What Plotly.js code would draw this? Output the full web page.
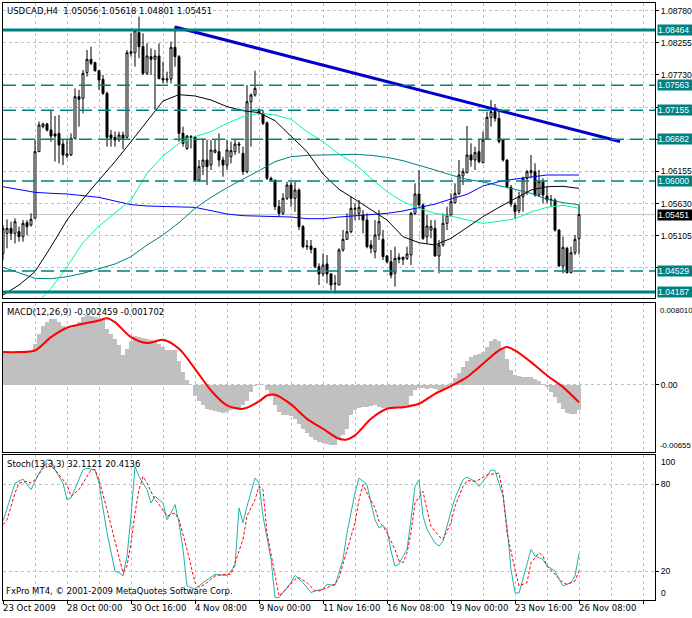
<!DOCTYPE html>
<html><head><meta charset="utf-8">
<script src="https://cdn.plot.ly/plotly-3.0.1.min.js"></script>
<style>html,body{margin:0;padding:0;background:#fff}#chart{width:692px;height:618px}</style>
</head><body><div id="chart"></div>
<script>
// ---------- price data (USDCAD H4, bar index 0..144) ----------
const open = [
1.04818,1.05145,1.05226,1.05145,1.05172,1.05090,1.05319,1.05281,1.05390,1.06478,
1.06886,1.06930,1.06832,1.06766,1.06777,1.06603,1.06407,1.06424,1.06696,1.07376,
1.07349,1.07768,1.07985,1.07931,1.07800,1.07659,1.07430,1.06750,1.06712,1.06668,
1.06750,1.06712,1.08083,1.08094,1.08421,1.08192,1.07757,1.08029,1.07985,1.08040,
1.07675,1.07648,1.07664,1.08181,1.08029,1.06777,1.06532,1.06723,1.06723,1.06015,
1.06233,1.06342,1.06260,1.06467,1.06478,1.06342,1.06260,1.06396,1.06478,1.06603,
1.06451,1.06151,1.07294,1.07403,1.07158,1.07104,1.06951,1.06043,1.06015,1.05580,
1.05471,1.05716,1.05934,1.05716,1.05852,1.05254,1.04927,1.04938,1.04900,1.04600,
1.04481,1.04644,1.04481,1.04317,1.04301,1.04873,1.05047,1.05172,1.05536,1.05471,
1.05444,1.05362,1.04954,1.04845,1.05117,1.05047,1.04775,1.04682,1.04492,1.04720,
1.04753,1.04736,1.04791,1.05471,1.05787,1.05607,1.05090,1.05199,1.05226,1.04775,
1.04954,1.05308,1.05444,1.05645,1.05798,1.06081,1.06135,1.06424,1.06342,1.06478,
1.06298,1.06679,1.07038,1.07131,1.07022,1.06668,1.06342,1.05896,1.05607,1.05515,
1.05743,1.06043,1.06135,1.06151,1.05770,1.05988,1.05754,1.05700,1.05689,1.05199,
1.04611,1.04900,1.04502,1.04829,1.05056];
const high = [
1.05281,1.05373,1.05335,1.05390,1.05254,1.05362,1.05362,1.05471,1.06668,1.06968,
1.06951,1.06951,1.07158,1.07060,1.07077,1.06668,1.06668,1.06777,1.07512,1.07485,
1.07811,1.08138,1.08192,1.07947,1.07811,1.07730,1.07457,1.06832,1.06805,1.06805,
1.06805,1.08138,1.08410,1.08464,1.08682,1.08410,1.08247,1.08165,1.08138,1.08247,
1.07947,1.07784,1.08274,1.08530,1.08056,1.06886,1.06750,1.06750,1.06734,1.06342,
1.06696,1.06668,1.06668,1.06668,1.06777,1.06396,1.06668,1.06641,1.06668,1.06641,
1.06559,1.07566,1.07430,1.07800,1.07185,1.07158,1.06968,1.06070,1.06015,1.05689,
1.05798,1.05988,1.05988,1.05988,1.05879,1.05281,1.05036,1.05036,1.04900,1.04655,
1.04818,1.04791,1.04492,1.04464,1.04900,1.05199,1.05471,1.05743,1.05634,1.05689,
1.05525,1.05471,1.05036,1.05362,1.05525,1.05199,1.04791,1.04873,1.04927,1.04818,
1.04764,1.04927,1.05498,1.05961,1.06179,1.05634,1.05444,1.05362,1.05362,1.05036,
1.05471,1.05580,1.05798,1.05961,1.06342,1.06206,1.06897,1.06614,1.06559,1.06668,
1.06805,1.07131,1.07321,1.07256,1.07158,1.06679,1.06353,1.05934,1.05645,1.05825,
1.06070,1.06179,1.06424,1.06288,1.06179,1.06043,1.05906,1.05770,1.05716,1.05210,
1.05090,1.04927,1.04927,1.05117,1.05618];
const low = [
1.04709,1.04900,1.05036,1.04981,1.05009,1.05009,1.05117,1.05254,1.05390,1.06478,
1.06859,1.06805,1.06641,1.06315,1.06288,1.06260,1.06369,1.06407,1.06679,1.06886,
1.07104,1.07702,1.07893,1.07784,1.07485,1.07403,1.06559,1.06559,1.06559,1.06641,
1.06516,1.06696,1.08029,1.07866,1.08002,1.07730,1.07730,1.07730,1.07158,1.07659,
1.07593,1.07593,1.07593,1.07866,1.06641,1.06559,1.06505,1.06532,1.05988,1.05988,
1.06097,1.05934,1.06179,1.06451,1.06233,1.06070,1.06179,1.06288,1.06424,1.06451,
1.06097,1.06124,1.06559,1.07376,1.07077,1.06913,1.06015,1.05988,1.05525,1.05417,
1.05444,1.05689,1.05580,1.05498,1.05199,1.04900,1.04873,1.04818,1.04573,1.04301,
1.04437,1.04328,1.04219,1.04165,1.04301,1.04845,1.05036,1.05145,1.05362,1.05362,
1.05145,1.04900,1.04818,1.04736,1.05036,1.04709,1.04655,1.04410,1.04274,1.04655,
1.04628,1.04709,1.04628,1.05444,1.05580,1.05036,1.04981,1.05063,1.04764,1.04492,
1.04927,1.05199,1.05417,1.05634,1.05770,1.05934,1.06124,1.06233,1.06179,1.06288,
1.06288,1.06668,1.06886,1.06968,1.06614,1.06315,1.05879,1.05580,1.05390,1.05471,
1.05498,1.05770,1.06043,1.05743,1.05743,1.05634,1.05634,1.05580,1.05172,1.04600,
1.04492,1.04492,1.04492,1.04791,1.04801];
const close = [
1.05226,1.05226,1.05145,1.05335,1.05090,1.05308,1.05254,1.05373,1.06478,1.06913,
1.06930,1.06832,1.06734,1.06734,1.06587,1.06424,1.06440,1.06696,1.07376,1.07332,
1.07757,1.07985,1.07920,1.07800,1.07648,1.07430,1.06712,1.06696,1.06668,1.06750,
1.06696,1.08094,1.08110,1.08453,1.08192,1.07757,1.08040,1.07985,1.08040,1.07670,
1.07648,1.07664,1.08181,1.08029,1.06777,1.06614,1.06734,1.06712,1.06015,1.06233,
1.06342,1.06233,1.06505,1.06505,1.06342,1.06260,1.06505,1.06494,1.06603,1.06587,
1.06151,1.07294,1.07403,1.07512,1.07104,1.06940,1.06043,1.06015,1.05580,1.05471,
1.05716,1.05934,1.05716,1.05852,1.05254,1.04927,1.04938,1.04883,1.04600,1.04481,
1.04628,1.04481,1.04301,1.04328,1.04873,1.05047,1.05172,1.05553,1.05553,1.05569,
1.05362,1.04927,1.04900,1.05117,1.05335,1.04764,1.04682,1.04464,1.04736,1.04753,
1.04720,1.04807,1.05471,1.05787,1.05607,1.05063,1.05264,1.05254,1.04775,1.04954,
1.05308,1.05444,1.05662,1.05798,1.06097,1.06151,1.06424,1.06342,1.06462,1.06315,
1.06668,1.07038,1.07131,1.07022,1.06641,1.06342,1.05906,1.05624,1.05498,1.05743,
1.06043,1.06151,1.06168,1.05770,1.05988,1.05770,1.05689,1.05689,1.05199,1.04611,
1.04916,1.04502,1.04829,1.05047,1.05451];

// ---------- moving averages (every 4th bar) ----------
const maIdx = [0,4,8,12,16,20,24,28,32,36,40,44,48,52,56,60,64,68,72,76,80,84,88,92,96,100,104,108,112,116,120,124,128,132,136,140,144];
const maBlack = [1.04138,1.04301,1.04519,1.04927,1.05362,1.05705,1.06015,1.06315,1.06641,1.06968,1.07305,1.07409,1.07387,1.07321,1.07213,1.07147,1.07115,1.06984,1.06728,1.06478,1.06113,1.05863,1.05700,1.05537,1.05362,1.05090,1.04992,1.04954,1.05063,1.05239,1.05417,1.05569,1.05716,1.05852,1.05906,1.05912,1.05879];
const maTeal  = [1.04590,1.04502,1.04410,1.04404,1.04437,1.04492,1.04568,1.04644,1.04764,1.04954,1.05117,1.05319,1.05553,1.05732,1.05890,1.06026,1.06168,1.06315,1.06396,1.06418,1.06424,1.06429,1.06435,1.06418,1.06385,1.06331,1.06260,1.06179,1.06097,1.06026,1.05983,1.05928,1.05863,1.05798,1.05700,1.05645,1.05613];
const maBlue  = [1.05906,1.05863,1.05814,1.05798,1.05787,1.05760,1.05732,1.05672,1.05613,1.05591,1.05585,1.05580,1.05569,1.05515,1.05460,1.05433,1.05422,1.05417,1.05411,1.05384,1.05384,1.05411,1.05428,1.05455,1.05471,1.05509,1.05564,1.05623,1.05705,1.05781,1.05917,1.05988,1.06031,1.06070,1.06097,1.06097,1.06097];
const greenIdx = [8,12,16,20,24,28,32,36,40,44,48,52,56,60,64,68,72,76,80,84,88,92,96,100,104,108,112,116,120,124,128,132,136,140,144];
const maGreen = [1.03975,1.04247,1.04600,1.04992,1.05264,1.05471,1.05689,1.06124,1.06407,1.06614,1.06723,1.06805,1.06940,1.07049,1.07104,1.07077,1.07006,1.06805,1.06641,1.06440,1.06277,1.06043,1.05825,1.05662,1.05553,1.05471,1.05428,1.05362,1.05308,1.05341,1.05384,1.05493,1.05569,1.05602,1.05553];

// ---------- objects ----------
const trendX = [43, 154.25];
const trendY = [1.08513, 1.06644];
const levelsSolid = [1.08464, 1.04187];
const levelsDash = [1.07563, 1.07155, 1.06682, 1.06000, 1.04529];
const bidPrice = 1.05451;
const priceTicks = [1.08780,1.08255,1.07730,1.07205,1.06680,1.06155,1.05630,1.05105,1.04580];
const priceTickText = ['1.08780','1.08255','1.07730','','','1.06155','1.05630','1.05105',''];

// ---------- MACD(12,26,9) ----------
const macdHist = [
0.00321,0.00327,0.00327,0.00321,0.00314,0.00314,0.00314,0.00321,0.00402,0.00500,
0.00581,0.00620,0.00640,0.00640,0.00614,0.00581,0.00549,0.00555,0.00581,0.00614,
0.00663,0.00679,0.00673,0.00663,0.00653,0.00630,0.00549,0.00500,0.00451,0.00386,
0.00288,0.00353,0.00425,0.00477,0.00467,0.00458,0.00451,0.00441,0.00425,0.00402,
0.00370,0.00337,0.00337,0.00337,0.00239,0.00125,0.00044,0.00002,-0.00103,-0.00161,
-0.00200,-0.00233,-0.00249,-0.00259,-0.00265,-0.00272,-0.00265,-0.00249,-0.00233,-0.00226,
-0.00200,-0.00161,-0.00070,-0.00011,0.00011,-0.00005,-0.00054,-0.00103,-0.00200,-0.00265,
-0.00292,-0.00298,-0.00305,-0.00337,-0.00379,-0.00428,-0.00467,-0.00510,-0.00542,-0.00559,
-0.00565,-0.00575,-0.00585,-0.00591,-0.00526,-0.00493,-0.00428,-0.00298,-0.00249,-0.00226,
-0.00220,-0.00217,-0.00207,-0.00200,-0.00217,-0.00226,-0.00233,-0.00233,-0.00233,-0.00226,
-0.00220,-0.00200,-0.00103,-0.00054,-0.00031,-0.00031,-0.00037,-0.00031,-0.00037,-0.00054,
-0.00044,-0.00021,0.00021,0.00067,0.00119,0.00174,0.00230,0.00272,0.00295,0.00301,
0.00321,0.00370,0.00425,0.00451,0.00425,0.00347,0.00249,0.00151,0.00099,0.00086,
0.00077,0.00077,0.00073,0.00054,0.00034,0.00011,-0.00021,-0.00070,-0.00119,-0.00174,
-0.00233,-0.00272,-0.00282,-0.00282,-0.00246];
const macdSigIdx = [0,4,8,12,16,20,24,26,28,32,36,40,44,48,52,56,60,64,66,68,72,76,80,84,86,88,92,96,100,104,108,112,116,120,124,126,128,132,136,140,144];
const macdSig = [0.00321,0.00321,0.00337,0.00467,0.00559,0.00598,0.00630,0.00653,0.00614,0.00467,0.00409,0.00441,0.00353,0.00158,-0.00054,-0.00200,-0.00233,-0.00161,-0.00103,-0.00096,-0.00190,-0.00331,-0.00428,-0.00526,-0.00532,-0.00493,-0.00331,-0.00233,-0.00217,-0.00184,-0.00086,-0.00011,0.00077,0.00207,0.00337,0.00370,0.00337,0.00223,0.00093,-0.00021,-0.00170];
const macdMax = 0.00801, macdMin = -0.00655;

// ---------- Stochastic(13,3,3) ----------
const stMainX = [0,3,5,7,9,11,12,13,15,16,17,19,20,21,23,24,25,26,28,29,30,31,32,33,34,36,37,38,40,41,42,43,44,45,46,48,50,53,55,56,58,59,60,61,63,64,65,67,68,69,72,73,75,77,78,80,81,83,84,85,86,88,89,91,92,93,94,95,96,97,98,99,100,101,102,103,104,105,106,108,109,110,112,113,115,116,118,119,120,121,122,123,125,126,127,128,129,130,132,133,135,136,138,139,140,142,143,144];
const stMainY = [54.3,80.6,83.4,76.1,87.5,96.6,96.6,89.8,80.6,69.2,70.3,82.9,89.8,90.9,89.8,80.6,64.6,46.3,20,18.9,16.6,30.3,57.8,92.1,85.2,76.1,66.9,71.5,66.9,55.4,60,65.8,53.2,34.9,9.7,7.4,12,17.7,17,17,23.4,63.5,53.2,64.6,84.1,80.6,57.8,28,1.7,1.7,12,17,12,5.1,6.3,7.4,10.8,10.2,18.9,28,46.3,73.8,84.1,79.5,66.9,55.4,49.7,51.3,48.6,33.8,23.4,24.6,30.3,34.9,55.4,78.3,82.9,57.8,48.6,39.4,37.2,40.6,61.2,70.3,82.9,84.7,81.8,78.3,81.8,85.2,89.8,89.3,71.5,50.9,21.1,5.1,4.7,14.3,34.9,30.3,28,23.4,20,14.3,9.7,12,16.6,32.1];
const stSigX = [0,1,3,4,6,7,8,11,13,16,17,19,21,22,23,24,26,28,29,30,31,32,33,34,35,36,38,39,41,43,44,46,48,49,51,53,55,57,58,60,61,63,64,65,66,68,69,70,73,74,76,78,79,81,83,84,86,88,89,90,91,93,94,95,96,98,99,100,101,102,103,105,106,107,109,110,112,113,115,116,118,119,121,124,125,126,128,129,131,132,134,135,136,138,140,141,143,144];
const stSigY = [52,55.4,73.8,80.6,81.8,80.6,82.9,94.4,89.8,79.5,71.5,76.1,85.2,89.8,89.8,82.9,62.3,40.6,28,18.9,23.4,39.4,60,76.1,85.2,80.6,69.2,65.8,57.8,60,55.4,34.9,12,8.6,12,16.6,17.7,17.7,25.7,41.8,57.8,69.2,78.3,76.1,46.3,18.9,2.8,5.1,14.3,15.4,12,6.3,6.3,8.6,10.8,15.4,34.9,53.2,69.2,79.5,73.8,63.5,54.3,50.9,46.3,34.9,26.9,25.7,32.6,46.3,66.9,74.9,62.3,50.9,44,41.8,53.2,64.6,78.3,82.4,81.8,82.9,86.3,87.5,73.8,46.3,21.1,9.7,12,25.7,32.6,30.3,23.4,17.7,12,10.8,13.1,20.1];

// ---------- time axis ----------
const timeLabelIdx = [0,16,32,48,64,80,96,112,128,144];
const timeLabels = ['23 Oct 2009','28 Oct 00:00','30 Oct 16:00','4 Nov 08:00','9 Nov 00:00','11 Nov 16:00','16 Nov 08:00','19 Nov 00:00','23 Nov 16:00','26 Nov 08:00'];

// ---------- build ----------
const idx = open.map((_, i) => i);
const FONT = {family: 'DejaVu Sans, sans-serif', size: 8.5, color: '#000'};
const RFONT = {family: 'Liberation Sans, Arial, sans-serif', size: 8.6, color: '#000'};
const TEAL = '#008080';
const GRID = '#c0c0c0';
const GDASH = '3px,3px';

const traces = [
  {type: 'candlestick', x: idx, open: open, high: high, low: low, close: close,
   xaxis: 'x', yaxis: 'y', whiskerwidth: 0, hoverinfo: 'skip',
   increasing: {line: {color: '#000', width: 1}, fillcolor: '#ffffff'},
   decreasing: {line: {color: '#000', width: 1}, fillcolor: '#000000'}},
  {type: 'scatter', mode: 'lines', x: maIdx, y: maBlue, xaxis: 'x', yaxis: 'y', line: {color: '#0000ff', width: 1}, hoverinfo: 'skip'},
  {type: 'scatter', mode: 'lines', x: maIdx, y: maTeal, xaxis: 'x', yaxis: 'y', line: {color: TEAL, width: 1}, hoverinfo: 'skip'},
  {type: 'scatter', mode: 'lines', x: greenIdx, y: maGreen, xaxis: 'x', yaxis: 'y', line: {color: '#00fa9a', width: 1}, hoverinfo: 'skip'},
  {type: 'scatter', mode: 'lines', x: maIdx, y: maBlack, xaxis: 'x', yaxis: 'y', line: {color: '#000000', width: 1}, hoverinfo: 'skip'},
  {type: 'scatter', mode: 'lines', x: trendX, y: trendY, xaxis: 'x', yaxis: 'y', line: {color: '#0000cd', width: 3}, hoverinfo: 'skip'},
  {type: 'bar', x: idx, y: macdHist, xaxis: 'x2', yaxis: 'y2', marker: {color: GRID, line: {width: 0}}, hoverinfo: 'skip'},
  {type: 'scatter', mode: 'lines', x: macdSigIdx, y: macdSig, xaxis: 'x2', yaxis: 'y2', line: {color: '#ff0000', width: 2, shape: 'spline', smoothing: 0.8}, hoverinfo: 'skip'},
  {type: 'scatter', mode: 'lines', x: stMainX, y: stMainY, xaxis: 'x3', yaxis: 'y3', line: {color: '#20b2aa', width: 1}, hoverinfo: 'skip'},
  {type: 'scatter', mode: 'lines', x: stSigX, y: stSigY, xaxis: 'x3', yaxis: 'y3', line: {color: '#ff0000', width: 1, dash: '3px,2px'}, hoverinfo: 'skip'}
];

const XR = [0, 163];
function xax(anchor, extra) {
  return Object.assign({
    anchor: anchor, range: XR, tickmode: 'linear', tick0: 0, dtick: 8,
    showgrid: true, gridcolor: GRID, griddash: GDASH, gridwidth: 1,
    showticklabels: false, ticks: '', zeroline: false,
    showline: true, linecolor: '#000', linewidth: 1, mirror: true, fixedrange: true
  }, extra || {});
}
function yax(domain, range, extra) {
  return Object.assign({
    domain: domain, range: range, side: 'right', ticks: 'outside', ticklen: 3, tickcolor: '#000',
    showgrid: true, gridcolor: GRID, griddash: GDASH, gridwidth: 1, zeroline: false,
    showline: true, linecolor: '#000', linewidth: 1, mirror: true, tickfont: RFONT, fixedrange: true
  }, extra || {});
}

const shapes = [];
shapes.push({type: 'line', xref: 'paper', x0: 0, x1: 1, yref: 'y', y0: bidPrice, y1: bidPrice, line: {color: GRID, width: 1}, layer: 'below'});
levelsSolid.forEach(v => shapes.push({type: 'line', xref: 'paper', x0: 0, x1: 1, yref: 'y', y0: v, y1: v, line: {color: TEAL, width: 3}}));
levelsDash.forEach(v => shapes.push({type: 'line', xref: 'paper', x0: 0, x1: 1, yref: 'y', y0: v, y1: v, line: {color: TEAL, width: 1.5, dash: '13px,6px'}}));

const NB = '\u00a0';
const annotations = [];
function txt(text, xref, x, yref, y, xanchor, yanchor, xs, ys, extra) {
  annotations.push(Object.assign({text: text, xref: xref, x: x, yref: yref, y: y, xanchor: xanchor, yanchor: yanchor,
    xshift: xs || 0, yshift: ys || 0, showarrow: false, font: FONT, borderpad: 0}, extra || {}));
}
txt('USDCAD,H4' + NB + NB + '1.05056 1.05618 1.04801 1.05451', 'paper', 0, 'paper', 1, 'left', 'top', 3, -2);
txt('MACD(12,26,9) -0.002459 -0.001702', 'paper', 0, 'y2 domain', 1, 'left', 'top', 3, -3);
txt('Stoch(13,3,3) 32.1121 20.4136', 'paper', 0, 'y3 domain', 1, 'left', 'top', 3, -3);
txt('FxPro MT4, \u00a9 2001-2009 MetaQuotes Software Corp.', 'paper', 0, 'y3 domain', 0, 'left', 'bottom', 2, 3);
// right-hand price labels of the level lines
const WFONT = Object.assign({}, RFONT, {color: '#fff'});
levelsSolid.concat(levelsDash).forEach(v => txt(v.toFixed(5), 'paper', 1, 'y', v, 'left', 'middle', 2, 0,
  {bgcolor: TEAL, font: WFONT, width: 35, align: 'left'}));
txt(bidPrice.toFixed(5), 'paper', 1, 'y', bidPrice, 'left', 'middle', 2, 0,
  {bgcolor: '#000', font: WFONT, width: 35, align: 'left'});
// indicator scale extremes
const SFONT = Object.assign({}, RFONT, {size: 7.8});
txt(macdMax.toFixed(6), 'paper', 1, 'y2 domain', 1, 'left', 'top', 4, -2, {font: SFONT});
txt(macdMin.toFixed(5), 'paper', 1, 'y2 domain', 0, 'left', 'bottom', 4, 1, {font: SFONT});
txt('100', 'paper', 1, 'y3 domain', 1, 'left', 'top', 5, -1, {font: RFONT});
txt('0', 'paper', 1, 'y3 domain', 0, 'left', 'bottom', 5, 1, {font: RFONT});
// time labels
timeLabelIdx.forEach((b, k) => txt(timeLabels[k], 'x3', b, 'paper', 0, 'left', 'top', -1, -2));

const layout = {
  width: 692, height: 618,
  margin: {l: 3, r: 37, t: 3, b: 18, pad: 0},
  paper_bgcolor: '#fff', plot_bgcolor: '#fff',
  showlegend: false, bargap: 0, boxgap: 0.3, dragmode: false,
  font: FONT,
  xaxis: xax('y', {rangeslider: {visible: false}}),
  xaxis2: xax('y2', {matches: 'x'}),
  xaxis3: xax('y3', {matches: 'x', dtick: 16, ticks: 'outside', ticklen: 3, tickcolor: '#000',
    minor: {tick0: 0, dtick: 8, showgrid: true, gridcolor: GRID, griddash: GDASH, ticks: ''}}),
  yaxis: yax([0.50586, 1], [1.04089, 1.08905], {tickmode: 'array', tickvals: priceTicks, ticktext: priceTickText}),
  yaxis2: yax([0.24791, 0.49749], [macdMin, macdMax], {tickmode: 'array', tickvals: [0], ticktext: ['0.00']}),
  yaxis3: yax([0, 0.24288], [0, 100], {tickmode: 'array', tickvals: [20, 80], ticktext: ['20', '80']}),
  shapes: shapes,
  annotations: annotations
};

Plotly.newPlot('chart', traces, layout, {staticPlot: true, displayModeBar: false});
</script>
</body></html>
